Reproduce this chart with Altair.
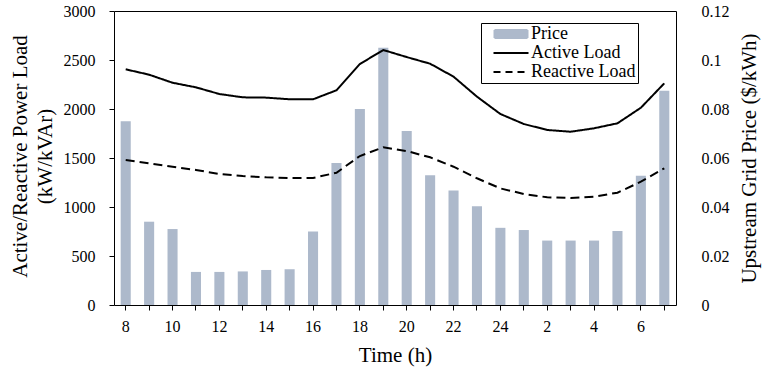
import altair as alt
import pandas as pd

hours = ["8", "9", "10", "11", "12", "13", "14", "15", "16", "17", "18", "19",
         "20", "21", "22", "23", "24", "1", "2", "3", "4", "5", "6", "7"]
price = [0.075, 0.034, 0.031, 0.0135, 0.0135, 0.0137, 0.0143, 0.0146, 0.030, 0.058,
         0.080, 0.105, 0.071, 0.053, 0.0467, 0.0403, 0.0315, 0.0306, 0.0263, 0.0263,
         0.0263, 0.0302, 0.0528, 0.0875]
active_load = [2405, 2350, 2268, 2221, 2153, 2119, 2116, 2099, 2099, 2191, 2459, 2602,
               2530, 2462, 2330, 2126, 1949, 1847, 1786, 1768, 1803, 1854, 2013, 2262]
reactive_load = [1480, 1446, 1411, 1378, 1337, 1316, 1303, 1296, 1296, 1350, 1520, 1609,
                 1571, 1507, 1411, 1293, 1190, 1133, 1099, 1092, 1105, 1146, 1258, 1395]
price_ticks = [0, 0.02, 0.04, 0.06, 0.08, 0.1, 0.12]
load_ticks = [0, 500, 1000, 1500, 2000, 2500, 3000]

series_names = ["Price", "Active Load", "Reactive Load"]
series_colors = ["#adb9cb", "black", "black"]

price_df = pd.DataFrame({"hour": hours, "idx": range(len(hours)), "price": price,
                         "series": "Price"})
load_df = pd.concat([
    pd.DataFrame({"hour": hours, "idx": range(len(hours)), "load": active_load,
                  "series": "Active Load"}),
    pd.DataFrame({"hour": hours, "idx": range(len(hours)), "load": reactive_load,
                  "series": "Reactive Load"}),
])

FONT = "Liberation Serif"

color_scale = alt.Scale(domain=series_names, range=series_colors)

legend = alt.Legend(
    title=None, orient="none", legendX=367, legendY=12,
    strokeColor="black", fillColor="white", padding=2, rowPadding=1,
    labelFont=FONT, labelFontSize=18, labelColor="black",
    symbolSize=100, labelOffset=30, symbolOpacity=1, symbolStrokeWidth=2,
    symbolType=alt.ExprRef(
        expr="datum.value === 'Price' ? 'M0.5,-0.8H7.1V0.8H0.5Z' : 'M0.3,0H7.3'"),
    symbolStrokeColor=alt.ExprRef(expr="datum.value === 'Price' ? '#adb9cb' : 'black'"),
    symbolFillColor=alt.ExprRef(expr="datum.value === 'Price' ? '#adb9cb' : 'transparent'"),
    symbolDash=alt.ExprRef(expr="datum.value === 'Reactive Load' ? [7, 5] : [1, 0]"),
)

x_enc = alt.X(
    "hour:N", sort=hours,
    scale=alt.Scale(paddingInner=0.57, paddingOuter=0.285),
    axis=alt.Axis(
        title="Time (h)", labelAngle=0, domain=False, ticks=True, tickSize=5,
        tickColor="black", labelPadding=8, grid=False,
        labelExpr="toNumber(datum.label) % 2 === 0 ? datum.label : ''",
        titleX=281, titleY=56, titleBaseline="alphabetic",
    ),
)

bars = alt.Chart(price_df).mark_bar().encode(
    x=x_enc,
    y=alt.Y("price:Q", scale=alt.Scale(domain=[0, 0.12]),
            axis=alt.Axis(orient="right", title="Upstream Grid Price ($/kWh)",
                          values=price_ticks, labelExpr="'' + datum.value",
                          ticks=False, tickSize=0, domain=False, grid=False,
                          labelPadding=25, labelAlign="left",
                          titleAngle=270, titleX=79, titleY=147,
                          titleBaseline="alphabetic", titleAlign="center")),
    color=alt.Color("series:N", scale=color_scale, legend=legend),
)

lines = alt.Chart(load_df).mark_line(strokeWidth=2).encode(
    x=x_enc,
    y=alt.Y("load:Q", scale=alt.Scale(domain=[0, 3000]),
            axis=alt.Axis(orient="left",
                          title=["Active/Reactive Power Load", "(kW/kVAr)"],
                          values=load_ticks, format="d",
                          ticks=True, tickSize=5, tickColor="black", domain=False,
                          grid=False, labelPadding=14,
                          titleAngle=270, titleX=-88, titleY=145,
                          titleBaseline="alphabetic", titleAlign="center",
                          titleLineHeight=25)),
    color=alt.Color("series:N", scale=color_scale, legend=legend),
    strokeDash=alt.StrokeDash("series:N",
                              scale=alt.Scale(domain=["Active Load", "Reactive Load"],
                                              range=[[1, 0], [9, 5]]),
                              legend=None),
    order=alt.Order("idx:Q"),
)

chart = alt.layer(bars, lines).resolve_scale(y="independent").properties(
    width=562, height=294,
    autosize=alt.AutoSizeParams(type="none"),
    padding={"left": 114, "top": 11, "right": 86, "bottom": 66},
    background="white",
).configure_view(
    stroke="black", strokeWidth=1,
).configure_axis(
    labelFont=FONT, labelFontSize=16, labelColor="black",
    titleFont=FONT, titleFontSize=21, titleColor="black", titleFontWeight="normal",
)

chart.save("out.html", embed_options={"renderer": "svg", "actions": False})
